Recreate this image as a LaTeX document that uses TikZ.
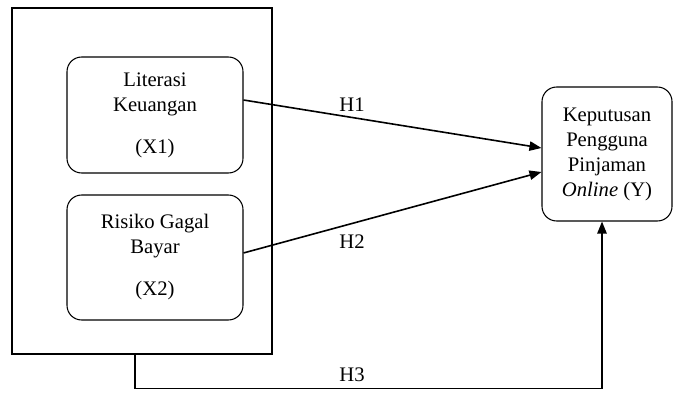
\documentclass[tikz,border=0pt]{standalone}
\usepackage{fontspec}
\setmainfont{Liberation Serif}
\usetikzlibrary{arrows.meta}

\tikzset{
  varbox/.style={draw, line width=0.8pt, rounded corners=11pt, align=center,
    minimum width=132pt, font=\fontsize{15.5}{18.75}\selectfont},
  hlabel/.style={font=\fontsize{15.5}{18.75}\selectfont},
  link/.style={line width=1.2pt, -{Triangle[length=9pt,width=7pt]}}
}

\begin{document}
\begin{tikzpicture}[x=0.75pt,y=-0.75pt]
  \useasboundingbox (0,0) rectangle (673,395);
  %% frame round the independent variables
  \node[draw, line width=1pt, minimum width=195pt, minimum height=259.5pt] (outer) at (142,181) {};
  %% variables
  \node[varbox, minimum height=87pt] (x1) at (155,115)
    {Literasi\\Keuangan\\[12.75pt](X1)};
  \node[varbox, minimum height=93.75pt] (x2) at (155,257.5)
    {Risiko Gagal\\Bayar\\[12.75pt](X2)};
  \node[varbox, minimum width=97.5pt, minimum height=100.5pt] (y) at (607,154)
    {Keputusan\\Pengguna\\Pinjaman\\\textit{Online} (Y)};
  %% hypothesis labels
  \node[hlabel] (h1) at (352,105) {H1};
  \node[hlabel] (h2) at (352,242) {H2};
  \node[hlabel] (h3) at (352,375) {H3};
  %% arrows
  \draw[link] ([yshift=11.25pt]x1.east) -- ([yshift=4.5pt]y.west); % X1 - Y
  \draw[link] ([yshift=3.4pt]x2.east) -- ([yshift=-13.5pt]y.west); % X2 - Y
  \draw[link] ([xshift=-5.25pt]outer.south) -- ++(0,34)
    -| ([xshift=-3.75pt]y.south); % X1, X2 - Y
\end{tikzpicture}
\end{document}
